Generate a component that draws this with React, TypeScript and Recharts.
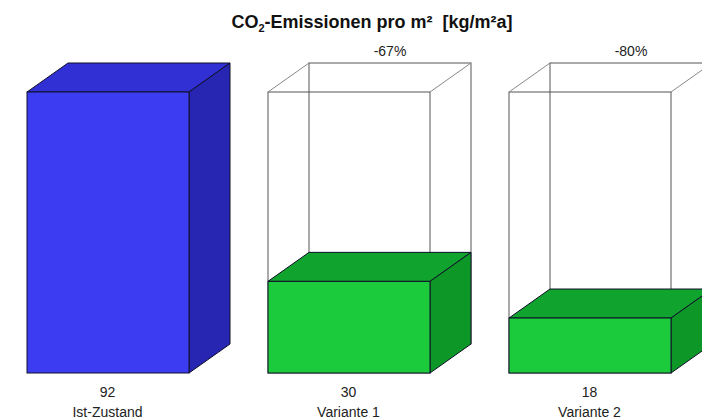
import React from "react";
import { BarChart, Bar, XAxis, YAxis, LabelList } from "recharts";

const categories = ["Ist-Zustand", "Variante 1", "Variante 2"];
const emissions = [92, 30, 18];
const baseline = [null, 92, 92];
const changeLabels = ["", "-67%", "-80%"];

const data = categories.map((name, i) => ({
  name,
  value: emissions[i],
  ref: baseline[i],
  change: changeLabels[i],
}));

const DX = 41;
const DY = 29;
const FONT = "'Liberation Sans', Arial, sans-serif";

const COLORS = [
  { front: "#3c3cf2", top: "#3030d4", side: "#2626b2" },
  { front: "#1ccb3c", top: "#10a32d", side: "#0c9727" },
  { front: "#1ccb3c", top: "#10a32d", side: "#0c9727" },
];

const Box = (p: any) => {
  const { x, y, width: w, height: h, index } = p;
  if (h == null || h <= 0) return null;
  const c = COLORS[index];
  const stroke = "#10102a";
  return (
    <g>
      <polygon
        points={`${x},${y} ${x + DX},${y - DY} ${x + w + DX},${y - DY} ${x + w},${y}`}
        fill={c.top} stroke={stroke} strokeWidth={1}
      />
      <polygon
        points={`${x + w},${y} ${x + w + DX},${y - DY} ${x + w + DX},${y + h - DY} ${x + w},${y + h}`}
        fill={c.side} stroke={stroke} strokeWidth={1}
      />
      <rect x={x} y={y} width={w} height={h} fill={c.front} stroke={stroke} strokeWidth={1} />
    </g>
  );
};

const Wire = (p: any) => {
  const { x, y, width: w, height: h } = p;
  if (h == null || h <= 0) return null;
  return (
    <g fill="none" stroke="#555" strokeWidth={1}>
      <rect x={x + DX} y={y - DY} width={w} height={h} />
      <rect x={x} y={y} width={w} height={h} />
      <line x1={x} y1={y} x2={x + DX} y2={y - DY} stroke="#888" />
      <line x1={x + w} y1={y} x2={x + w + DX} y2={y - DY} stroke="#888" />
    </g>
  );
};

const Tick = (p: any) => {
  const { x, y, payload } = p;
  const i = payload.index;
  return (
    <g fontFamily={FONT} fontSize={14} fill="#222" textAnchor="middle">
      <text x={x} y={y + 24}>{emissions[i]}</text>
      <text x={x} y={y + 44}>{categories[i]}</text>
    </g>
  );
};

const ChangeLabel = (p: any) => {
  const { x, y, width, value } = p;
  if (!value) return null;
  return (
    <text x={x + width / 2 + DX} y={y - DY - 7} textAnchor="middle" fontFamily={FONT} fontSize={14} fill="#222">
      {value}
    </text>
  );
};

export default function App() {
  return (
    <div style={{ width: 702, height: 419, background: "#fff" }}>
      <style>{`body{margin:0}`}</style>
      <BarChart width={702} height={419} data={data} margin={{ top: 92, right: -8, bottom: 0, left: -13 }}>
        <text x={372} y={28} textAnchor="middle" fontFamily={FONT} fontSize={18} fontWeight="bold" fill="#111">
          CO<tspan fontSize={11} dy={4}>2</tspan>
          <tspan dy={-4}>{"-Emissionen pro m²\u00a0\u00a0[kg/m²a]"}</tspan>
        </text>
        <XAxis xAxisId="ref" dataKey="name" hide />
        <XAxis xAxisId="main" dataKey="name" height={46} axisLine={false} tickLine={false} tickSize={0} tickMargin={0} tick={<Tick />} interval={0} />
        <YAxis hide domain={[0, 92]} />
        <Bar xAxisId="ref" dataKey="ref" barSize={162} shape={<Wire />} isAnimationActive={false}>
          <LabelList dataKey="change" content={<ChangeLabel />} />
        </Bar>
        <Bar xAxisId="main" dataKey="value" barSize={162} shape={<Box />} isAnimationActive={false} />
      </BarChart>
    </div>
  );
}
